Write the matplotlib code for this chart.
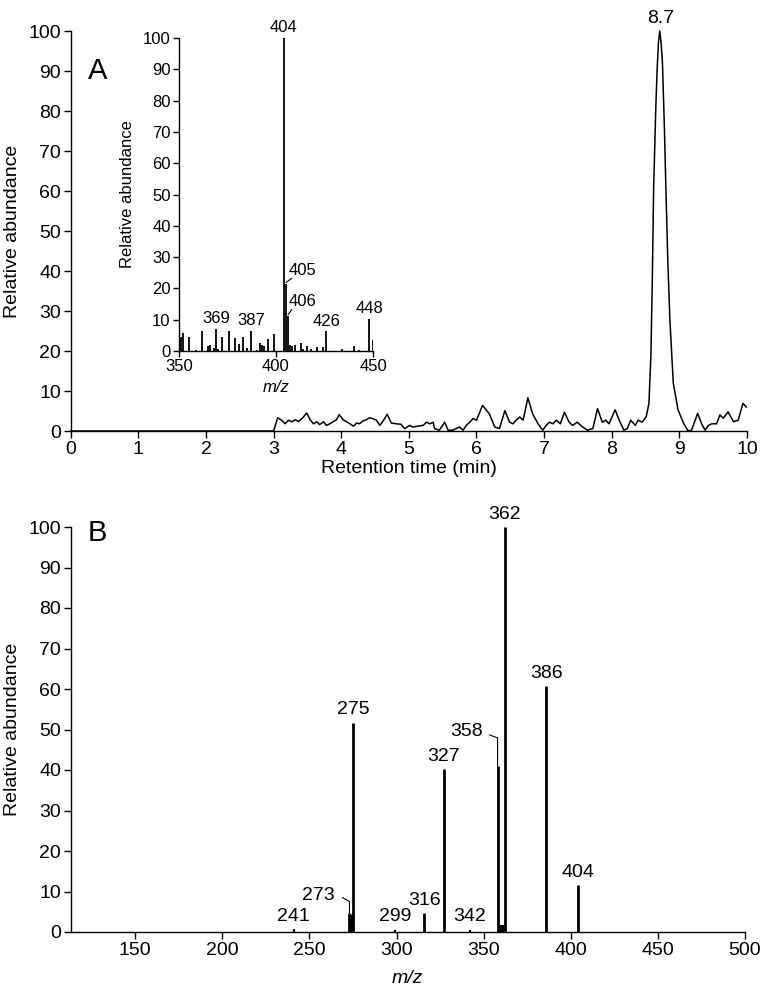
import matplotlib
matplotlib.use('Agg')
import matplotlib.pyplot as plt
from matplotlib.lines import Line2D
from matplotlib.transforms import IdentityTransform

plt.rcParams['font.family'] = ['Liberation Sans', 'DejaVu Sans']

# ---------------- data ----------------
# Panel A: chromatogram (retention time, relative abundance)
rt = [0.0, 3.0, 3.06, 3.12, 3.17, 3.22, 3.27, 3.32, 3.37, 3.42, 3.49, 3.54, 3.59, 3.64,
      3.68, 3.74, 3.78, 3.83, 3.88, 3.93, 3.97, 4.03, 4.08, 4.13, 4.18, 4.23, 4.27, 4.32,
      4.37, 4.42, 4.47, 4.52, 4.57, 4.62, 4.68, 4.74, 4.81, 4.88, 4.94, 5.01, 5.06, 5.13,
      5.21, 5.26, 5.31, 5.36, 5.38, 5.45, 5.53, 5.58, 5.65, 5.75, 5.80, 5.85, 5.90, 5.95,
      6.00, 6.09, 6.19, 6.27, 6.34, 6.42, 6.49, 6.54, 6.59, 6.64, 6.69, 6.76, 6.83, 6.91,
      6.98, 7.03, 7.08, 7.13, 7.18, 7.24, 7.30, 7.37, 7.42, 7.49, 7.57, 7.64, 7.72, 7.79,
      7.86, 7.91, 7.96, 8.05, 8.11, 8.18, 8.23, 8.28, 8.35, 8.39, 8.45, 8.51, 8.55, 8.58,
      8.60, 8.62, 8.65, 8.67, 8.69, 8.71, 8.73, 8.75, 8.78, 8.80, 8.83, 8.86, 8.91, 8.98,
      9.06, 9.13, 9.18, 9.27, 9.33, 9.38,
      9.43, 9.48, 9.55, 9.60, 9.65, 9.72, 9.80, 9.87, 9.94, 9.99]
tic = [0.0, 0.0, 3.3, 2.7, 1.8, 2.7, 2.3, 2.8, 2.4, 3.1, 4.5, 2.8, 1.8, 2.3,
       1.6, 2.3, 1.4, 1.8, 2.3, 2.8, 4.1, 2.8, 2.3, 1.8, 1.2, 2.0, 1.8, 2.5,
       2.8, 3.3, 3.1, 2.7, 1.4, 2.5, 4.2, 2.0, 1.8, 1.7, 0.6, 1.4, 1.0, 1.2,
       1.4, 2.2, 1.8, 2.2, 0.6, 0.2, 2.2, 0.2, 0.2, 1.0, 0.2, 1.4, 2.2, 3.1,
       2.7, 6.4, 4.3, 1.0, 0.6, 5.1, 2.2, 1.8, 2.8, 3.5, 2.7, 8.3, 4.3, 1.8,
       0.2, 1.4, 2.2, 1.8, 2.7, 1.8, 4.7, 2.2, 1.4, 2.2, 1.0, 0.2, 0.6, 5.6,
       2.2, 2.7, 1.8, 5.3, 2.7, 0.2, 0.6, 2.7, 1.4, 2.7, 2.2, 3.6, 6.9, 19.4,
       38.0, 61.0, 80.0, 90.0, 97.0, 100.0, 97.0, 92.0, 75.0, 61.0, 42.0, 27.8, 12.0, 5.3,
       2.0, 0.0, 0.2, 4.4, 1.8, 0.2,
       1.4, 1.8, 1.8, 4.0, 3.2, 4.8, 2.3, 2.7, 6.9, 6.0]
peak_label = "8.7"
peak_label_rt = 8.72

# Inset: full-scan mass spectrum
inset_mz = [350, 351, 352, 355, 359, 362, 365, 366, 368, 369, 370, 372, 376, 379, 381,
            383, 385, 387, 390, 392, 393, 394, 396, 399, 404, 405, 406, 407, 408, 410,
            413, 414, 416, 418, 421, 424, 426, 434, 440, 443, 448, 450]
inset_int = [4.4, 4.6, 5.7, 4.6, 0.2, 6.3, 1.5, 2.0, 1.0, 7.0, 0.7, 4.4, 6.4, 4.2, 2.3,
             4.6, 1.0, 6.5, 0.4, 2.5, 2.0, 1.5, 3.8, 5.5, 100.0, 21.3, 11.3, 1.8, 1.5, 2.0,
             2.6, 0.7, 1.5, 0.7, 1.2, 1.2, 6.3, 0.7, 1.5, 0.4, 10.2, 3.6]
inset_top_labels = [369, 387, 404, 426, 448]
inset_leader_labels = [405, 406]

# Panel B: product-ion spectrum
msms_mz = [241, 273, 274, 275, 299, 316, 327, 342, 358, 360, 361, 362, 386, 404]
msms_int = [0.7, 4.8, 4.5, 51.7, 0.6, 4.6, 40.3, 0.6, 41.0, 1.8, 1.8, 100.0, 60.7, 11.5]
msms_top_labels = [241, 275, 299, 316, 327, 342, 362, 386, 404]
msms_leader_labels = [273, 358]

# ---------------- figure ----------------
W, H = 767, 991
fig = plt.figure(figsize=(W / 100, H / 100), dpi=100)


def frac(x0, y0, x1, y1):
    # image pixel box -> figure fraction [l, b, w, h]
    return [x0 / W, 1 - y1 / H, (x1 - x0) / W, (y1 - y0) / H]


def style(ax, size, ticklen=5):
    for s in ['top', 'right']:
        ax.spines[s].set_visible(False)
    for s in ['left', 'bottom']:
        ax.spines[s].set_linewidth(1.0)
        ax.spines[s].set_color('black')
    ax.tick_params(direction='out', length=ticklen, width=1.0, labelsize=size,
                   colors='black', pad=2)


FS = 14
FS_IN = 12

# ---- Panel A ----
axA = fig.add_axes(frac(70.7, 31, 747, 431))
axA.plot(rt, tic, color='black', lw=1.1, clip_on=False)
axA.set_xlim(0, 10)
axA.set_ylim(0, 100)
axA.set_xticks(range(0, 11))
axA.set_yticks(range(0, 101, 10))
style(axA, FS)
axA.set_xlabel('Retention time (min)', fontsize=FS)
axA.xaxis.set_label_coords(0.5, -0.072)
axA.set_ylabel('Relative abundance', fontsize=FS)
axA.yaxis.set_label_coords(-0.074, 0.5)
axA.annotate(peak_label, (peak_label_rt, 100), xytext=(0, 3), textcoords='offset points',
             ha='center', va='bottom', fontsize=FS, annotation_clip=False)
axA.text(0.04, 0.9, 'A', transform=axA.transAxes, fontsize=21, ha='center', va='center')

# ---- Inset ----
axI = fig.add_axes(frac(179, 38, 373, 351))
axI.vlines(inset_mz, 0, inset_int, colors='black', lw=1.3)
axI.set_xlim(350, 450)
axI.set_ylim(0, 100)
axI.set_xticks([350, 400, 450])
axI.set_yticks(range(0, 101, 10))
style(axI, FS_IN, ticklen=4)
axI.set_xlabel('m/z', fontsize=FS_IN, style='italic')
axI.xaxis.set_label_coords(0.5, -0.093)
axI.set_ylabel('Relative abundance', fontsize=FS_IN)
axI.yaxis.set_label_coords(-0.225, 0.5)
for m in inset_top_labels:
    v = inset_int[inset_mz.index(m)]
    axI.annotate(str(m), (m, v), xytext=(0, 2), textcoords='offset points',
                 ha='center', va='bottom', fontsize=FS_IN)

fig.canvas.draw()


def leader(ax, m, v, pts, label_off, size, ha='center'):
    x, y = ax.transData.transform((m, v))
    xs = [x + p[0] for p in pts]
    ys = [y - p[1] for p in pts]
    fig.add_artist(Line2D(xs, ys, transform=IdentityTransform(), color='black', lw=0.8))
    fig.text((x + label_off[0]) / W, (y - label_off[1]) / H, str(m), fontsize=size,
             ha=ha, va='center')


# inset leader labels (pixel offsets, y downward)
v405 = inset_int[inset_mz.index(405)]
v406 = inset_int[inset_mz.index(406)]
leader(axI, 405, v405, [(0.5, -2), (6, -6)], (17, -14), FS_IN)
leader(axI, 406, v406, [(0.5, -1), (4, -6)], (15, -14), FS_IN)

# ---- Panel B ----
axB = fig.add_axes(frac(70.7, 527, 745, 932))
lws = [2.0 if v > 3 else 1.6 for v in msms_int]
axB.vlines(msms_mz, 0, msms_int, colors='black', lw=lws)
axB.set_xlim(113, 500)
axB.set_ylim(0, 100)
axB.set_xticks(range(150, 501, 50))
axB.set_yticks(range(0, 101, 10))
style(axB, FS)
axB.set_xlabel('m/z', fontsize=FS, style='italic')
axB.xaxis.set_label_coords(0.5, -0.095)
axB.set_ylabel('Relative abundance', fontsize=FS)
axB.yaxis.set_label_coords(-0.074, 0.5)
for m in msms_top_labels:
    v = msms_int[msms_mz.index(m)]
    axB.annotate(str(m), (m, v), xytext=(0, 3), textcoords='offset points',
                 ha='center', va='bottom', fontsize=FS)
axB.text(0.039, 0.985, 'B', transform=axB.transAxes, fontsize=21, ha='center', va='center')

fig.canvas.draw()
v273 = msms_int[msms_mz.index(273)]
v358 = msms_int[msms_mz.index(358)]
leader(axB, 273, v273, [(0, 0), (0, -11), (-7, -15)], (-31, -17), FS)
leader(axB, 358, v358, [(0, 0), (0, -28), (-8, -31)], (-31, -34), FS)

fig.savefig('out.png', dpi=100)
